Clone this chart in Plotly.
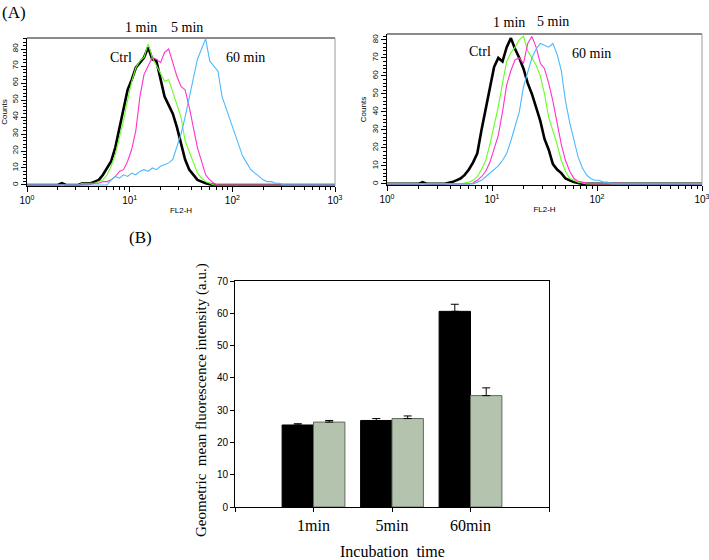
import numpy as np
import plotly.graph_objects as go

# ---------------- data ----------------
# log10(FL2-H) channel positions for the histograms
FL2_LOG = [0.00,
           0.30, 0.34, 0.38, 0.42, 0.46, 0.50, 0.54, 0.58,
           0.62, 0.66, 0.70, 0.74, 0.78, 0.82, 0.86, 0.90,
           0.94, 0.98, 1.02, 1.06, 1.10, 1.14, 1.18, 1.22,
           1.26, 1.30, 1.34, 1.38, 1.42, 1.46, 1.50, 1.54,
           1.58, 1.62, 1.66, 1.70, 1.74, 1.78, 1.82, 1.86,
           1.90, 1.94, 1.98, 2.02, 2.06, 2.10, 2.14, 2.18,
           2.22, 2.26, 2.30, 2.34, 2.38, 2.42, 2.46, 2.50,
           2.54, 3.00]

# left panel counts
L_CTRL = [0,
          0, 1, 0, 0, 0, 0, 1, 1,
          1, 2, 3, 6, 10, 14, 22, 33,
          46, 56, 62, 69, 72, 75, 81, 74,
          73, 62, 52, 47, 42, 34, 24, 15,
          9, 6, 3, 2, 1, 0.5, 0, 0,
          0, 0, 0, 0, 0, 0, 0, 0,
          0, 0, 0, 0, 0, 0, 0, 0,
          0, 0]
L_1MIN = [0,
          0, 0, 0, 0, 0, 0, 1, 1,
          1, 1, 2, 3, 6, 11, 18, 28,
          38, 50, 61, 69, 73, 75, 83, 75,
          70, 65, 61, 62, 55, 47, 40, 26,
          20, 14, 7, 4, 2, 1, 0, 0,
          0, 0, 0, 0, 0, 0, 0, 0,
          0, 0, 0, 0, 0, 0, 0, 0,
          0, 0]
L_5MIN = [0,
          0, 0, 0, 0, 0, 0, 0, 0,
          0.5, 1, 1, 2, 2, 3, 5, 8,
          9, 14, 21, 32, 52, 65, 70, 75,
          74, 72, 78, 80, 72, 64, 58, 56,
          46, 33, 22, 14, 6, 3, 1, 0,
          0, 0, 0, 0, 0, 0, 0, 0,
          0, 0, 0, 0, 0, 0, 0, 0,
          0, 0]
L_60MIN = [0,
           0, 0, 0, 0, 0, 0, 0, 0,
           0, 0, 0, 0, 0, 3, 5, 4,
           6, 5, 7, 6, 8, 9, 8, 10,
           9, 11, 12, 13, 15, 22, 30, 40,
           52, 64, 74, 80, 86, 73, 70, 67,
           52, 45, 37, 30, 24, 17, 13, 9,
           7, 5, 3, 2, 2, 1, 1, 0,
           0, 0]

# right panel counts
R_CTRL = [0,
          0, 1, 0, 0, 0, 0, 0, 0.5,
          1, 2, 3, 5, 8, 12, 17, 30,
          42, 54, 65, 70, 68, 76, 81, 75,
          70, 64, 56, 50, 43, 35, 25, 19,
          11, 8, 6, 3, 2, 1, 0.5, 0,
          0, 0, 0, 0, 0, 0, 0, 0,
          0, 0, 0, 0, 0, 0, 0, 0,
          0, 0]
R_1MIN = [0,
          0, 0, 0, 0, 0, 0, 0, 0,
          0, 0, 0, 0.5, 1, 2, 4, 8,
          13, 22, 32, 43, 56, 68, 73, 76,
          80, 82, 74, 70, 66, 60, 50, 37,
          30, 22, 13, 7, 3, 2, 1, 0.5,
          0, 0, 0, 0, 0, 0, 0, 0,
          0, 0, 0, 0, 0, 0, 0, 0,
          0, 0]
R_5MIN = [0,
          0, 0, 0, 0, 0, 0, 0, 0,
          0, 0, 0, 0, 0, 0.5, 2, 4,
          7, 12, 19, 27, 40, 55, 63, 69,
          70, 67, 78, 82, 76, 67, 64, 56,
          46, 34, 22, 13, 7, 3, 1.5, 1,
          0.5, 0, 0, 0, 0, 0, 0, 0,
          0, 0, 0, 0, 0, 0, 0, 0,
          0, 0]
R_60MIN = [0,
           0, 0, 0, 0, 0, 0, 0, 0,
           0, 0, 0, 0, 0, 0, 1, 2,
           4, 6, 8, 10, 13, 17, 24, 32,
           40, 54, 62, 70, 75, 78, 77, 76,
           78, 72, 63, 46, 34, 24, 15, 9,
           5, 3, 2, 2, 1, 1, 0, 0,
           0, 0, 0, 0, 0, 0, 0, 0,
           0, 0]

HIST_NAMES = ["Ctrl", "1 min", "5 min", "60 min"]
HIST_COLORS = ["#000000", "#66ff22", "#ff33cc", "#4db8ff"]
HIST_WIDTHS = [2.6, 1.1, 1.1, 1.1]

# bar chart (B)
CATEGORIES = ["1min", "5min", "60min"]
CAT_POS = [1, 2, 3]
BLACK_VALUES = [25.4, 26.8, 60.6]
BLACK_ERR = [0.4, 0.6, 2.2]
GREY_VALUES = [26.3, 27.4, 34.5]
GREY_ERR = [0.5, 0.8, 2.4]

DECADE_TICKS = [1, 10, 100, 1000]
DECADE_LABELS = ["10<sup>0</sup>", "10<sup>1</sup>", "10<sup>2</sup>", "10<sup>3</sup>"]
COUNT_TICKS = [0, 10, 20, 30, 40, 50, 60, 70, 80]
BAR_TICKS = [0, 10, 20, 30, 40, 50, 60, 70]

# ---------------- figure ----------------
W, H = 709, 560
SERIF = "Times New Roman, Liberation Serif, serif"
SANS = "Arial, Liberation Sans, sans-serif"

fig = go.Figure()
xs = 10 ** np.array(FL2_LOG)

for ax, series in (("", [L_CTRL, L_1MIN, L_5MIN, L_60MIN]),
                   ("2", [R_CTRL, R_1MIN, R_5MIN, R_60MIN])):
    for name, ys, col, lw in zip(HIST_NAMES, series, HIST_COLORS, HIST_WIDTHS):
        fig.add_trace(go.Scatter(x=xs, y=ys, mode="lines", name=name,
                                 line=dict(color=col, width=lw),
                                 xaxis="x" + ax, yaxis="y" + ax,
                                 showlegend=False, hoverinfo="skip"))

fig.add_trace(go.Bar(x=CAT_POS, y=BLACK_VALUES, xaxis="x3", yaxis="y3",
                     marker=dict(color="#000000", line=dict(color="#000000", width=1)),
                     error_y=dict(type="data", symmetric=False, array=BLACK_ERR,
                                  arrayminus=[0, 0, 0], color="#000000",
                                  thickness=1, width=4),
                     showlegend=False))
fig.add_trace(go.Bar(x=CAT_POS, y=GREY_VALUES, xaxis="x3", yaxis="y3",
                     marker=dict(color="#b4c3ad", line=dict(color="#5f6a5b", width=1)),
                     error_y=dict(type="data", symmetric=False, array=GREY_ERR,
                                  arrayminus=[0, 0, 0], color="#000000",
                                  thickness=1, width=4),
                     showlegend=False))

def px2x(px):
    return px / W

def py2y(py):
    return 1 - py / H

minor_log = [m * d for d in (1, 10, 100) for m in range(2, 10)]

def hist_x(domain, anchor):
    return dict(domain=domain, anchor=anchor, type="log", range=[0, 3],
                automargin=False, ticklabeloverflow="allow",
                tickmode="array", tickvals=DECADE_TICKS, ticktext=DECADE_LABELS,
                ticks="outside", ticklen=5, tickcolor="black",
                minor=dict(tickmode="array", tickvals=minor_log, ticks="outside",
                           ticklen=3, tickcolor="black"),
                showline=True, linecolor="black", linewidth=1, showgrid=False,
                zeroline=False,
                tickfont=dict(family=SANS, size=10, color="black"),
                title=dict(text="FL2-H", font=dict(family=SANS, size=8, color="black"),
                           standoff=2))

def hist_y(domain, anchor, top):
    return dict(domain=domain, anchor=anchor, range=[-0.6, top],
                automargin=False,
                tickmode="array", tickvals=COUNT_TICKS, tickangle=-90,
                ticks="outside", ticklen=5, tickcolor="black",
                minor=dict(dtick=2, tick0=0, ticks="outside", ticklen=3, tickcolor="black"),
                showline=True, linecolor="black", linewidth=1, showgrid=False,
                zeroline=False,
                tickfont=dict(family=SANS, size=8, color="black"),
                title=dict(text="Counts", font=dict(family=SANS, size=8, color="black"),
                           standoff=2))

fig.update_layout(
    width=W, height=H, margin=dict(l=0, r=0, t=0, b=0, autoexpand=False),
    paper_bgcolor="white", plot_bgcolor="white",
    barmode="group", bargap=0.2, bargroupgap=0,
    xaxis=hist_x([px2x(27), px2x(335)], "y"),
    yaxis=hist_y([py2y(186), py2y(38)], "x", 86.5),
    xaxis2=hist_x([px2x(387), px2x(702)], "y2"),
    yaxis2=hist_y([py2y(185), py2y(34)], "x2", 83.3),
    xaxis3=dict(domain=[px2x(235), px2x(549)], anchor="y3", range=[0, 4],
                automargin=False,
                tickmode="array", tickvals=[0] + CAT_POS + [4],
                ticktext=[""] + CATEGORIES + [""],
                ticks="outside", ticklen=4, tickcolor="black",
                showline=True, linecolor="black", linewidth=1, mirror=True,
                showgrid=False, zeroline=False,
                tickfont=dict(family=SERIF, size=16, color="black")),
    yaxis3=dict(domain=[py2y(507), py2y(281)], anchor="x3", range=[0, 70],
                automargin=False,
                tickmode="array", tickvals=BAR_TICKS,
                ticks="outside", ticklen=4, tickcolor="black",
                showline=True, linecolor="black", linewidth=1, mirror=True,
                showgrid=False, zeroline=False,
                tickfont=dict(family=SANS, size=10, color="black")),
)

# grey top/right frame of the histogram panels
for xr, yr in (("x", "y"), ("x2", "y2")):
    fig.add_shape(type="line", xref=xr + " domain", yref=yr + " domain",
                  x0=0, x1=1, y0=1, y1=1, line=dict(color="#8a8a8a", width=2))
    fig.add_shape(type="line", xref=xr + " domain", yref=yr + " domain",
                  x0=1, x1=1, y0=0, y1=1, line=dict(color="#9a9a9a", width=1))

def label(text, px, py, size=14, angle=0):
    fig.add_annotation(text=text, x=px2x(px), y=py2y(py), xref="paper", yref="paper",
                       showarrow=False, xanchor="center", yanchor="middle",
                       textangle=angle, font=dict(family=SERIF, size=size, color="black"))

label("(A)", 14, 12, 17)
label("1 min", 141, 27)
label("5 min", 187, 27)
label("Ctrl", 121, 58)
label("60 min", 245, 58)
label("1 min", 509, 23)
label("5 min", 553, 22)
label("Ctrl", 480, 51)
label("60 min", 591, 54)
label("(B)", 140, 237, 17)
label("Geometric  mean fluorescence intensity (a.u.)", 201, 400, 15, -90)
label("Incubation  time", 392, 551, 16)

fig.write_html("out.html",
               config={"displayModeBar": False},
               post_script="document.body.style.margin='0';"
                           "document.body.style.overflow='hidden';")
